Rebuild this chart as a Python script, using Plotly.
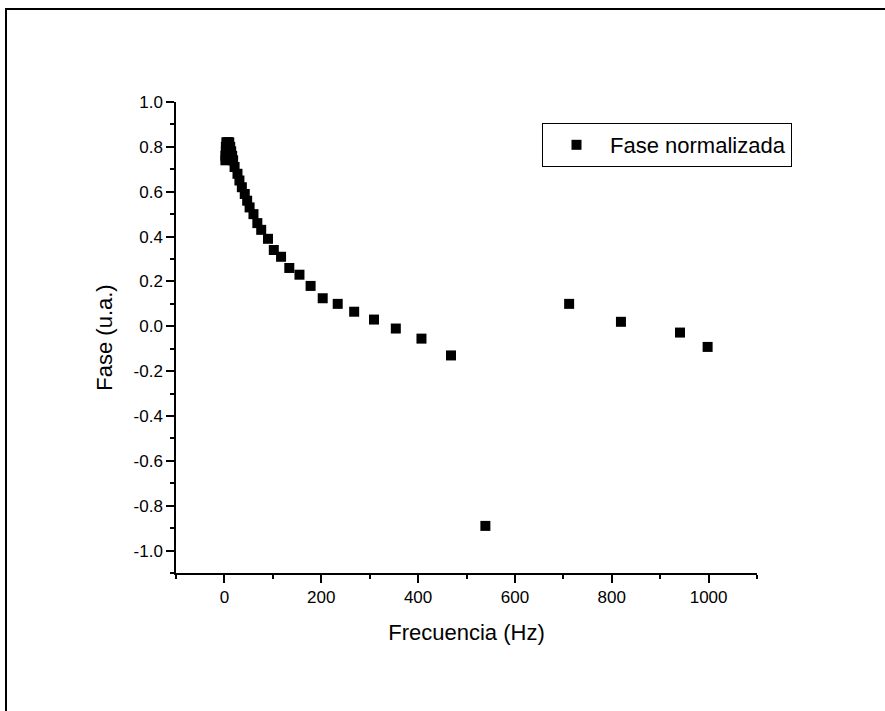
import plotly.graph_objects as go

freq = [2, 2, 3, 3, 4, 6, 8, 10, 12, 14, 16, 18,
        21, 27, 31, 36, 42, 47, 52, 60, 68, 76, 90, 102, 117,
        134, 155, 178, 203, 234, 268, 309, 354, 407, 468,
        539, 712, 819, 941, 998]
fase = [0.74, 0.76, 0.78, 0.80, 0.82, 0.82, 0.82, 0.82, 0.80, 0.78, 0.76, 0.74,
        0.71, 0.68, 0.65, 0.62, 0.59, 0.56, 0.53, 0.50, 0.46, 0.43, 0.39, 0.34, 0.31,
        0.26, 0.23, 0.18, 0.125, 0.10, 0.065, 0.03, -0.01, -0.055, -0.13,
        -0.89, 0.10, 0.02, -0.028, -0.092]

x_ticks = [0, 200, 400, 600, 800, 1000]
y_ticks = [-1.0, -0.8, -0.6, -0.4, -0.2, 0.0, 0.2, 0.4, 0.6, 0.8, 1.0]
y_labels = ["%.1f" % v for v in y_ticks]

FONT = "Liberation Sans, Arial, sans-serif"

fig = go.Figure()
fig.add_trace(go.Scatter(
    x=freq, y=fase, mode="markers", name="Fase normalizada",
    marker=dict(symbol="square", size=10, color="black"),
))

fig.update_layout(
    width=885, height=711,
    margin=dict(l=176, r=128, t=102, b=138),
    paper_bgcolor="white", plot_bgcolor="white",
    font=dict(family=FONT, color="black"),
    showlegend=True,
    legend=dict(
        x=(542 - 176) / 581, y=(573 - 123) / 471, xanchor="left", yanchor="top",
        bgcolor="white", bordercolor="black", borderwidth=1,
        font=dict(size=22, family=FONT), itemwidth=57,
    ),
    xaxis=dict(
        range=[-100, 1100], tickvals=x_ticks,
        showgrid=False, zeroline=False,
        showline=True, linecolor="black", linewidth=1.5,
        ticks="outside", ticklen=8, tickwidth=1.5, tickcolor="black",
        tickfont=dict(size=17, family=FONT),
        minor=dict(dtick=100, tick0=0, ticks="outside", ticklen=4, tickwidth=1.5, tickcolor="black", showgrid=False),
        title=dict(text="Frecuencia (Hz)", font=dict(size=22, family=FONT), standoff=18),
    ),
    yaxis=dict(
        range=[-1.1, 1.0], tickvals=y_ticks, ticktext=y_labels,
        showgrid=False, zeroline=False,
        showline=True, linecolor="black", linewidth=1.5,
        ticks="outside", ticklen=8, tickwidth=1.5, tickcolor="black",
        tickfont=dict(size=17, family=FONT),
        minor=dict(dtick=0.1, tick0=0.0, ticks="outside", ticklen=4, tickwidth=1.5, tickcolor="black", showgrid=False),
        title=dict(text="Fase (u.a.)", font=dict(size=22, family=FONT), standoff=15),
    ),
)

# outer frame (top and left edges)
fig.add_shape(type="line", xref="paper", yref="paper",
              x0=(5 - 176) / 581, x1=(890 - 176) / 581,
              y0=(573 - 9) / 471, y1=(573 - 9) / 471,
              line=dict(color="black", width=2))
fig.add_shape(type="line", xref="paper", yref="paper",
              x0=(6 - 176) / 581, x1=(6 - 176) / 581,
              y0=(573 - 9) / 471, y1=(573 - 720) / 471,
              line=dict(color="black", width=2))

fig.write_html("out.html", config={"displayModeBar": False},
               post_script="document.body.style.margin='0px';")
